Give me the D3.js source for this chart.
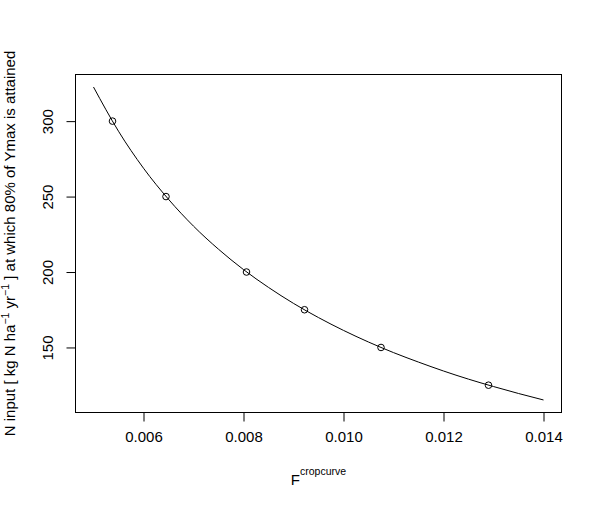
<!DOCTYPE html>
<html>
<head>
<meta charset="utf-8">
<script src="https://cdn.jsdelivr.net/npm/d3@7"></script>
<style>
  html, body { margin: 0; padding: 0; background: #ffffff; }
  svg { display: block; }
  text { font-family: "Liberation Sans", Arial, sans-serif; fill: #000; }
</style>
</head>
<body>
<svg id="chart" width="600" height="507"></svg>
<script>
// ---- Data ----
const pointX = [0.00538, 0.00645, 0.00806, 0.00922, 0.01075, 0.01290];
const pointY = [300, 250, 200, 175, 150, 125];

const curveX = [0.005, 0.0055, 0.006, 0.0065, 0.007, 0.0075, 0.008, 0.0085, 0.009, 0.0095,
                0.010, 0.0105, 0.011, 0.0115, 0.012, 0.0125, 0.013, 0.0135, 0.014];
const curveY = [322.6, 293.3, 268.8, 248.2, 230.4, 215.1, 201.6, 189.8, 179.2, 169.8,
                161.3, 153.6, 146.6, 140.3, 134.4, 129.0, 124.1, 119.5, 115.2];

const xTicks = [0.006, 0.008, 0.010, 0.012, 0.014];
const xTickLabels = ["0.006", "0.008", "0.010", "0.012", "0.014"];
const yTicks = [150, 200, 250, 300];
const yTickLabels = ["150", "200", "250", "300"];

// ---- Layout ----
const svg = d3.select("#chart");
const pLeft = 75.5, pRight = 561.5, pTop = 74.5, pBottom = 412.5;

const x = d3.scaleLinear().domain([0.00464, 0.01436]).range([pLeft, pRight]);
const y = d3.scaleLinear().domain([106.9, 330.9]).range([pBottom, pTop]);

// Curve
const curveData = curveX.map((v, i) => [v, curveY[i]]);
svg.append("path")
  .datum(curveData)
  .attr("fill", "none")
  .attr("stroke", "#000")
  .attr("stroke-width", 1)
  .attr("d", d3.line().x(d => x(d[0])).y(d => y(d[1])).curve(d3.curveMonotoneX));

// Points
svg.append("g").selectAll("circle")
  .data(pointX.map((v, i) => [v, pointY[i]]))
  .join("circle")
  .attr("cx", d => x(d[0]))
  .attr("cy", d => y(d[1]))
  .attr("r", 3.3)
  .attr("fill", "none")
  .attr("stroke", "#000")
  .attr("stroke-width", 1);

// Axes
const xAxis = d3.axisBottom(x)
  .tickValues(xTicks)
  .tickFormat((d, i) => xTickLabels[i])
  .tickSize(9).tickSizeOuter(0);
const gx = svg.append("g").attr("transform", `translate(0,${pBottom})`).call(xAxis);
gx.select(".domain").remove();
gx.selectAll("text").attr("font-size", 15).attr("font-family", "Liberation Sans, Arial, sans-serif")
  .attr("dy", null).attr("y", 29.5);
gx.selectAll("line").attr("stroke", "#000");

const yAxis = d3.axisLeft(y)
  .tickValues(yTicks)
  .tickFormat((d, i) => yTickLabels[i])
  .tickSize(9).tickSizeOuter(0);
const gy = svg.append("g").attr("transform", `translate(${pLeft},0)`).call(yAxis);
gy.select(".domain").remove();
gy.selectAll("line").attr("stroke", "#000");
gy.selectAll("text")
  .attr("font-size", 15).attr("font-family", "Liberation Sans, Arial, sans-serif")
  .attr("x", null).attr("dy", null)
  .attr("text-anchor", "middle")
  .attr("transform", "translate(-22.5,0) rotate(-90)");

// Box
svg.append("rect")
  .attr("x", pLeft).attr("y", pTop)
  .attr("width", pRight - pLeft).attr("height", pBottom - pTop)
  .attr("fill", "none").attr("stroke", "#000").attr("stroke-width", 1);

// X label
const xl = svg.append("text")
  .attr("x", (pLeft + pRight) / 2).attr("y", 485)
  .attr("text-anchor", "middle").attr("font-size", 15);
xl.append("tspan").text("F");
xl.append("tspan").attr("font-size", 10.5).attr("dy", -10).text("cropcurve");

// Y label
const yl = svg.append("text")
  .attr("transform", `translate(15,${(pTop + pBottom) / 2}) rotate(-90)`)
  .attr("text-anchor", "middle").attr("font-size", 15);
yl.append("tspan").text("N input [ kg N ha");
yl.append("tspan").attr("font-size", 10.5).attr("dy", -6).text("\u22121");
yl.append("tspan").attr("dy", 6).text(" yr");
yl.append("tspan").attr("font-size", 10.5).attr("dy", -6).text("\u22121");
yl.append("tspan").attr("dy", 6).text(" ] at which 80% of Ymax is attained");
</script>
</body>
</html>
